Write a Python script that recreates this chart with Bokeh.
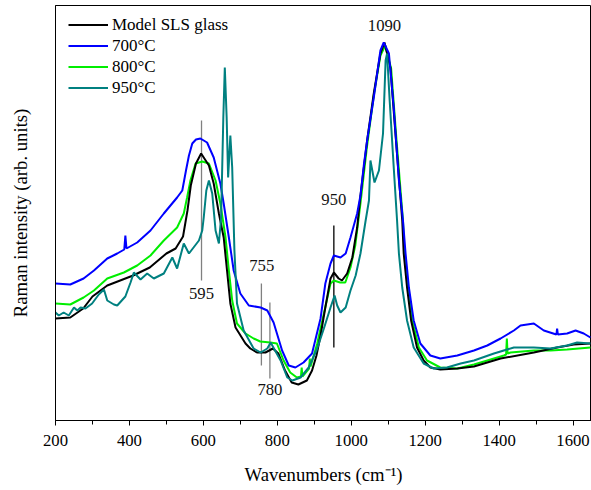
from bokeh.plotting import figure
from bokeh.models import Range1d, Legend, LegendItem, FixedTicker, ColumnDataSource
from bokeh.core.properties import value
from bokeh.embed import file_html
from bokeh.resources import INLINE

# ---- data (Raman intensity, arbitrary units) ----
black_w = [200,240,275,300,340,410,455,500,525,545,557,566,580,594,615,628,642,655,664,673,
           687,714,727,745,768,788,803,821,839,857,880,894,906,917,930,944,953,966,975,989,
           1003,1016,1025,1043,1061,1079,1090,1106,1120,1138,1142,1151,1162,1178,1196,1214,1241,1287,1332,1404,
           1494,1557,1602,1647]
black_i = [102,103,112,124,135,145,153,167,172,184,210,235,257,267,255,237,207,183,150,117,
           93,77,72,68,68,72,67,50,38,36,40,50,65,85,113,142,148,142,140,147,
           163,193,225,280,327,367,378,353,285,200,167,133,100,73,60,53,51,52,54,62,
           68,73,76,77]

blue_w = [200,240,276,304,340,367,386,389,392,421,457,493,529,543,553,561,570,580,592,610,
          628,646,655,669,682,700,723,755,773,790,813,831,849,871,894,917,930,944,953,971,
          985,998,1007,1016,1025,1034,1043,1061,1079,1088,1102,1115,1129,1140,1147,1156,1169,1187,1214,1241,
          1287,1332,1368,1404,1440,1458,1494,1521,1555,1557,1559,1584,1607,1629,1647]
blue_i = [137,136,142,150,162,167,171,185,172,178,190,207,223,230,250,265,277,281,282,278,
          263,237,217,183,150,127,115,113,110,98,70,55,53,58,67,102,137,157,165,163,
          167,183,195,207,225,255,280,323,370,378,367,313,240,200,167,133,100,77,65,62,
          65,70,75,82,90,95,97,90,86,92,86,87,90,87,83]

green_w = [200,240,276,304,340,385,421,457,493,529,547,556,565,579,597,615,633,646,660,669,
           678,691,714,736,754,781,799,817,835,853,864,866,868,886,888,890,908,926,944,953,
           970,984,998,1011,1025,1043,1061,1079,1092,1108,1122,1140,1144,1153,1165,1183,1205,1241,1287,1332,
           1386,1413,1419,1421,1423,1431,1494,1539,1584,1647]
green_i = [117,116,123,130,142,148,155,165,180,193,207,223,240,257,259,257,240,217,183,150,
           120,97,87,82,79,78,77,60,48,43,44,53,44,52,62,54,77,107,137,140,
           138,138,153,175,217,275,325,365,375,352,283,200,167,133,100,73,60,53,52,56,
           62,65,66,82,67,68,70,70,71,73]

teal_w = [200,209,222,236,250,259,268,281,299,317,331,340,358,367,389,403,412,430,448,466,
          493,516,529,547,561,588,597,601,608,615,624,633,642,648,654,658,663,667,673,678,
          684,691,709,736,755,773,782,791,809,827,841,863,885,908,926,944,955,962,971,985,
          998,1012,1025,1039,1048,1052,1063,1075,1086,1093,1097,1104,1115,1124,1129,1138,1151,1169,1196,1223,
          1259,1296,1332,1386,1440,1494,1539,1584,1611,1647]
teal_i = [108,105,108,105,113,110,113,112,117,126,131,120,116,115,124,138,148,141,147,142,
          147,163,152,177,167,180,190,203,230,240,227,190,177,203,303,353,303,243,285,253,
          170,117,90,72,68,72,78,72,60,43,40,43,53,72,92,113,125,115,108,113,
          130,145,167,200,220,260,238,250,287,360,367,320,253,200,167,133,100,73,57,52,
          53,57,60,67,73,73,72,75,78,77]

series_labels = ["Model SLS glass", "700\u00b0C", "800\u00b0C", "950\u00b0C"]

# band assignments (annotation marks)
band_x = [595, 757, 780, 953]
band_y0 = [140, 55, 42, 73]
band_y1 = [300, 137, 118, 195]
band_color = ["#808080", "#808080", "#808080", "#000000"]
label_text = ["595", "755", "780", "950", "1090"]
label_x = [595, 758, 780, 953, 1090]
label_y = [127, 155, 31, 221, 395]

x_major = [200, 400, 600, 800, 1000, 1200, 1400, 1600]
x_minor = [300, 500, 700, 900, 1100, 1300, 1500]

FONT = "Liberation Serif"

p = figure(width=591, height=490, output_backend="svg", toolbar_location=None,
           x_range=Range1d(200, 1650), y_range=Range1d(0, 415),
           min_border_left=55, min_border_right=0, min_border_top=5, min_border_bottom=70)
p.grid.visible = False
p.outline_line_color = "black"
p.outline_line_width = 1
p.background_fill_color = "white"
p.border_fill_color = "white"

# annotation lines
p.segment(x0=band_x, x1=band_x, y0=band_y0, y1=band_y1, line_color=band_color, line_width=1.3)

r_green = p.line(green_w, green_i, line_color="#00EE00", line_width=2)
r_black = p.line(black_w, black_i, line_color="black", line_width=2)
r_blue = p.line(blue_w, blue_i, line_color="#0000FF", line_width=2)
r_teal = p.line(teal_w, teal_i, line_color="#008080", line_width=2)

src = ColumnDataSource(dict(x=label_x, y=label_y, t=label_text))
p.text(x="x", y="y", text="t", source=src, text_align="center", text_baseline="middle",
       text_font=value(FONT), text_font_size="16.7px", text_color="#111111")

# axes
p.xaxis.ticker = FixedTicker(ticks=x_major, minor_ticks=x_minor)
p.xaxis.axis_label = "Wavenumbers (cm\u207b\u00b9)"
p.xaxis.axis_label_text_font = FONT
p.xaxis.axis_label_text_font_size = "18.7px"
p.xaxis.axis_label_text_font_style = "normal"
p.xaxis.axis_label_standoff = 15
p.xaxis.major_label_text_font = FONT
p.xaxis.major_label_text_font_size = "16.7px"
p.xaxis.major_label_standoff = 9
p.xaxis.major_tick_out = 5
p.xaxis.major_tick_in = 0
p.xaxis.minor_tick_out = 4
p.xaxis.minor_tick_in = 0
p.xaxis.axis_line_color = "black"
p.xaxis.major_tick_line_color = "black"
p.xaxis.minor_tick_line_color = "black"
p.xaxis.major_label_text_color = "black"
p.xaxis.axis_label_text_color = "black"

p.yaxis.ticker = FixedTicker(ticks=[])
p.yaxis.axis_label = "Raman intensity (arb. units)"
p.yaxis.axis_label_text_font = FONT
p.yaxis.axis_label_text_font_size = "18.7px"
p.yaxis.axis_label_text_font_style = "normal"
p.yaxis.axis_label_text_color = "black"
p.yaxis.axis_label_standoff = 25
p.yaxis.major_tick_line_color = None
p.yaxis.minor_tick_line_color = None
p.yaxis.axis_line_color = "black"

legend = Legend(items=[LegendItem(label=series_labels[0], renderers=[r_black]),
                       LegendItem(label=series_labels[1], renderers=[r_blue]),
                       LegendItem(label=series_labels[2], renderers=[r_green]),
                       LegendItem(label=series_labels[3], renderers=[r_teal])],
                location=(13, 322), border_line_color=None, background_fill_alpha=0,
                label_text_font=FONT, label_text_font_size="17px", label_text_color="black",
                glyph_width=40, glyph_height=21, label_height=21, spacing=0,
                padding=0, margin=0, label_standoff=4)
p.add_layout(legend)

open("out.html", "w").write(file_html(p, INLINE))
